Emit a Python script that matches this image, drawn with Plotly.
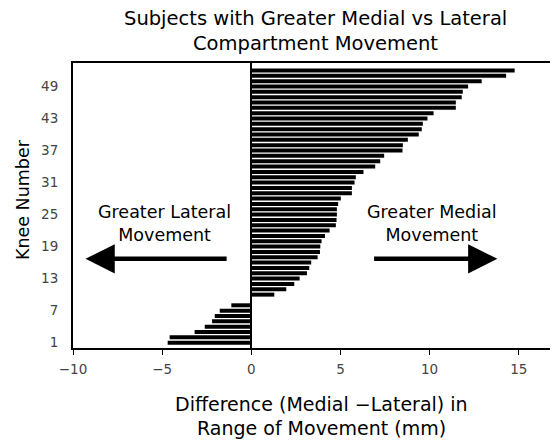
import plotly.graph_objects as go

knees = list(range(1, 53))
diff_mm = [
    -4.69, -4.58, -3.18, -2.61, -2.20, -2.05, -1.77, -1.12, 0.0,
    1.29, 1.96, 2.41, 2.71, 3.12, 3.25, 3.36, 3.72, 3.85, 3.87,
    3.94, 4.13, 4.39, 4.74, 4.78, 4.80, 4.80, 4.87, 5.02, 5.64,
    5.64, 5.79, 5.86, 6.29, 6.95, 7.23, 7.45, 8.48, 8.50, 8.78,
    9.39, 9.56, 9.62, 9.88, 10.22, 11.47, 11.47, 11.80, 11.86, 12.16,
    12.92, 14.29, 14.77,
]
y_ticks = [1, 7, 13, 19, 25, 31, 37, 43, 49]
x_ticks = [-10, -5, 0, 5, 10, 15]

title_lines = ["Subjects with Greater Medial vs Lateral", "Compartment Movement"]
xtitle_lines = ["Difference (Medial \u2212Lateral) in", "Range of Movement (mm)"]
ytitle = "Knee Number"

FONT = "DejaVu Sans"

fig = go.Figure()
fig.add_trace(go.Bar(
    x=diff_mm, y=knees, orientation="h",
    marker=dict(color="black", line=dict(width=0)),
    width=0.75,
))

fig.update_layout(
    width=550, height=433,
    margin=dict(l=64.5, r=0, t=55, b=93, autoexpand=False),
    paper_bgcolor="white", plot_bgcolor="white",
    showlegend=False,
    font=dict(family=FONT, color="black"),
    xaxis=dict(
        range=[-10, 17.2], tickvals=x_ticks, ticks="outside", ticklen=5,
        tickwidth=1, tickcolor="black", automargin=False,
        showgrid=False, zeroline=True, zerolinecolor="black", zerolinewidth=2,
        showline=True, linecolor="black", linewidth=2, mirror=True,
        ticklabelstandoff=3,
        tickfont=dict(size=13.5, color="#444444", family=FONT),
    ),
    yaxis=dict(
        range=[0, 53.4], tickvals=y_ticks, ticks="", automargin=False,
        showgrid=False, zeroline=False,
        showline=True, linecolor="black", linewidth=2, mirror=False,
        ticklabelstandoff=10,
        tickfont=dict(size=13.5, color="#444444", family=FONT),
    ),
)

# Title (two lines)
for txt, shift in zip(title_lines, [45, 20]):
    fig.add_annotation(x=0.5, y=1, xref="paper", yref="paper", yshift=shift,
                       yanchor="middle", xanchor="center", showarrow=False, text=txt,
                       font=dict(size=19.5, family=FONT, color="black"))
# X axis title (two lines)
for txt, shift in zip(xtitle_lines, [-56, -80]):
    fig.add_annotation(x=0.513, y=0, xref="paper", yref="paper", yshift=shift,
                       yanchor="middle", xanchor="center", showarrow=False, text=txt,
                       font=dict(size=19, family=FONT, color="black"))
# Y axis title
fig.add_annotation(x=0, y=0.519, xref="paper", yref="paper", xshift=-50,
                   xanchor="center", yanchor="middle", textangle=-90, showarrow=False,
                   text=ytitle, font=dict(size=17.5, family=FONT, color="black"))

fig.add_annotation(x=-4.87, y=23.3, xref="x", yref="y", text="Greater Lateral<br>Movement",
                   showarrow=False, font=dict(size=17.5, family=FONT, color="black"))
fig.add_annotation(x=10.14, y=23.3, xref="x", yref="y", text="Greater Medial<br>Movement",
                   showarrow=False, font=dict(size=17.5, family=FONT, color="black"))
fig.add_annotation(x=-9.3, y=16.7, ax=-1.3, ay=16.7, xref="x", yref="y", axref="x", ayref="y",
                   text="", showarrow=True, arrowhead=2, arrowsize=1.3, arrowwidth=4.5,
                   arrowcolor="black", standoff=0)
fig.add_annotation(x=13.8, y=16.7, ax=6.8, ay=16.7, xref="x", yref="y", axref="x", ayref="y",
                   text="", showarrow=True, arrowhead=2, arrowsize=1.3, arrowwidth=4.5,
                   arrowcolor="black", standoff=0)

fig.write_html("out.html")
